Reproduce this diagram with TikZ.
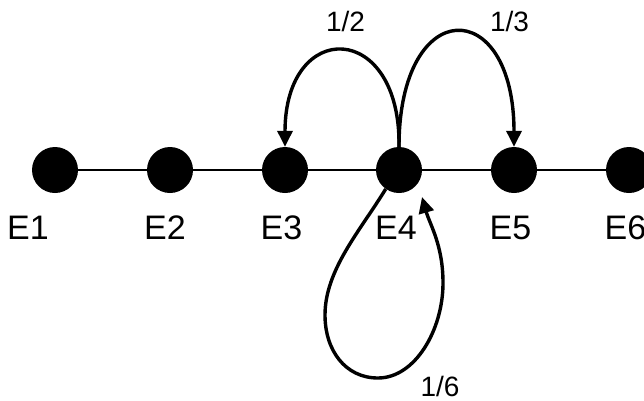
\documentclass[tikz,border=0pt]{standalone}
\usepackage{fontspec}
\setmainfont{Liberation Sans}
\usetikzlibrary{arrows.meta}
\begin{document}
\begin{tikzpicture}[x=1pt,y=-1pt,
  dot/.style={circle,fill=black,draw=none,minimum size=46pt,inner sep=0pt},
  lab/.style={anchor=base,inner sep=0pt,font=\fontsize{34}{40}\selectfont},
  elab/.style={anchor=base,inner sep=0pt,font=\fontsize{28}{34}\selectfont},
  link/.style={line width=1.3pt},
  arr/.style={line width=3.4pt,-{Triangle[length=16pt,width=15pt]}}]
\useasboundingbox (0,0) rectangle (644,400);
\clip (0,0) rectangle (644,400);
\node[dot] (e1) at (55,170) {};
\node[dot] (e2) at (170,170) {};
\node[dot] (e3) at (285,170) {};
\node[dot] (e4) at (399,170) {};
\node[dot] (e5) at (514,170) {};
\node[dot] (e6) at (629,170) {};
\draw[link] (e1) -- (e2);
\draw[link] (e2) -- (e3);
\draw[link] (e3) -- (e4);
\draw[link] (e4) -- (e5);
\draw[link] (e5) -- (e6);
\node[lab] (l1) at (28,239) {E1};
\node[lab] (l2) at (165,239) {E2};
\node[lab] (l3) at (281.5,239) {E3};
\node[lab] (l4) at (396,239) {E4};
\node[lab] (l5) at (510.5,239) {E5};
\node[lab] (l6) at (625.5,239) {E6};
\node[elab] (h) at (345.5,31) {1/2};
\node[elab] (t) at (509.5,31) {1/3};
\node[elab] (s) at (440,396) {1/6};
\draw[arr] (e4.north) .. controls (401,20) and (285,18) .. (e3.north);
\draw[arr] (e4.north) .. controls (399,-6) and (514,-6) .. (e5.north);
\coordinate (lt) at (422,197);
\draw[arr] (e4.-125) .. controls (360,231) and (325,270) .. (325,315)
  .. controls (325,350) and (345,378) .. (378,378)
  .. controls (415,378) and (443,330) .. (443,283)
  .. controls (443,245) and (430,225) .. (lt);
\end{tikzpicture}
\end{document}
